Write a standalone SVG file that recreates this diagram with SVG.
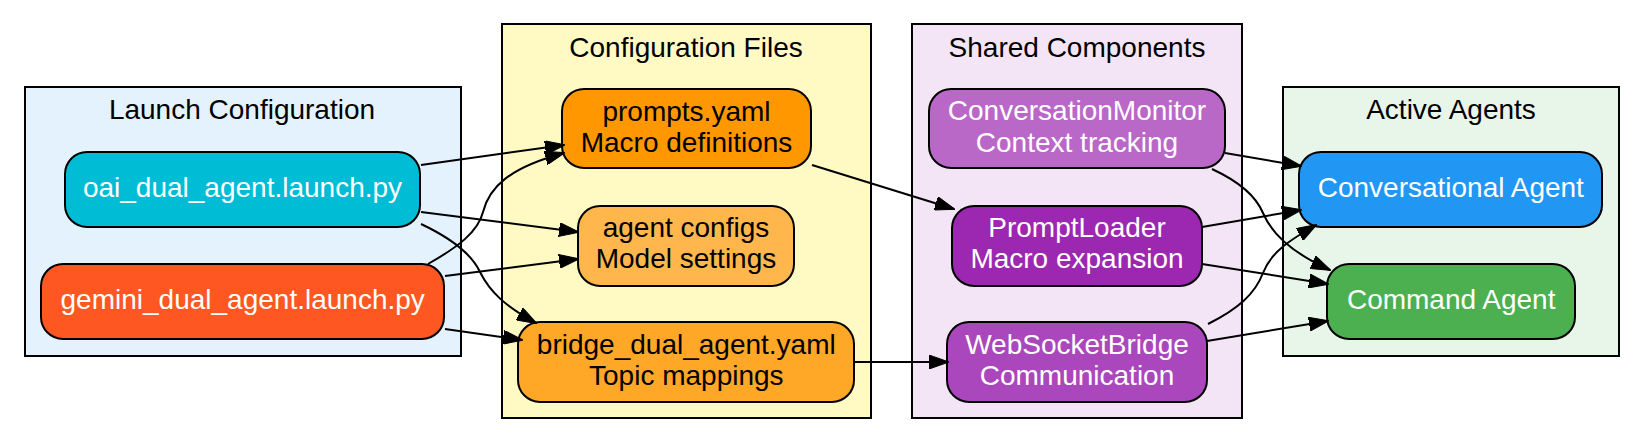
<svg xmlns="http://www.w3.org/2000/svg" width="1644" height="444" viewBox="0 0 1644 444">
<style>
text{font-family:"Liberation Sans",Arial,sans-serif;font-size:28px;text-anchor:middle}
.cl{stroke:#000;stroke-width:2}
.nd{stroke:#000;stroke-width:2}
.w{fill:#fff}
.b{fill:#000}
.e{fill:none;stroke:#000;stroke-width:2;marker-end:url(#ah)}
</style>
<defs>
<marker id="ah" viewBox="0 0 20 14" refX="19" refY="7" markerWidth="20" markerHeight="14" markerUnits="userSpaceOnUse" orient="auto">
<path d="M0,0 L20,7 L0,14 z" fill="#000" stroke="#000" stroke-width="1"/>
</marker>
</defs>
<rect width="1644" height="444" fill="#fff"/>
<g id="cluster_launch">
<rect class="cl" x="25" y="87" width="436" height="269" fill="#e3f2fd"/>
<text x="242" y="119">Launch Configuration</text>
</g>
<g id="cluster_config">
<rect class="cl" x="502" y="24" width="369" height="394" fill="#fff9c4"/>
<text x="686" y="57">Configuration Files</text>
</g>
<g id="cluster_shared">
<rect class="cl" x="912" y="24" width="330" height="394" fill="#f3e5f5"/>
<text x="1077" y="57">Shared Components</text>
</g>
<g id="cluster_active">
<rect class="cl" x="1283" y="87" width="336" height="269" fill="#e8f5e9"/>
<text x="1451" y="119">Active Agents</text>
</g>
<g id="oai">
<rect class="nd" x="65" y="152" width="355" height="75" rx="22" fill="#00bcd4"/>
<text class="w" x="242.5" y="197">oai_dual_agent.launch.py</text>
</g>
<g id="gemini">
<rect class="nd" x="41" y="264" width="403" height="75" rx="22" fill="#ff5722"/>
<text class="w" x="242.7" y="309">gemini_dual_agent.launch.py</text>
</g>
<g id="prompts">
<rect class="nd" x="562" y="89" width="249" height="79" rx="22" fill="#ff9800"/>
<text class="b" x="686.5" y="121">prompts.yaml</text>
<text class="b" x="686.5" y="152">Macro definitions</text>
</g>
<g id="agentcfg">
<rect class="nd" x="578" y="206" width="216" height="80" rx="22" fill="#ffb74d"/>
<text class="b" x="686" y="237">agent configs</text>
<text class="b" x="686" y="268">Model settings</text>
</g>
<g id="bridgecfg">
<rect class="nd" x="518" y="322" width="336" height="80" rx="22" fill="#ffa726"/>
<text class="b" x="686.3" y="354">bridge_dual_agent.yaml</text>
<text class="b" x="686.3" y="385">Topic mappings</text>
</g>
<g id="convmon">
<rect class="nd" x="929" y="89" width="296" height="79" rx="22" fill="#ba68c8"/>
<text class="w" x="1077" y="120">ConversationMonitor</text>
<text class="w" x="1077" y="152">Context tracking</text>
</g>
<g id="promptloader">
<rect class="nd" x="952" y="206" width="250" height="80" rx="22" fill="#9c27b0"/>
<text class="w" x="1077" y="237">PromptLoader</text>
<text class="w" x="1077" y="268">Macro expansion</text>
</g>
<g id="wsbridge">
<rect class="nd" x="947" y="322" width="260" height="80" rx="22" fill="#ab47bc"/>
<text class="w" x="1077" y="354">WebSocketBridge</text>
<text class="w" x="1077" y="385">Communication</text>
</g>
<g id="convagent">
<rect class="nd" x="1299" y="152" width="303" height="75" rx="22" fill="#2196f3"/>
<text class="w" x="1450.8" y="197">Conversational Agent</text>
</g>
<g id="cmdagent">
<rect class="nd" x="1327" y="264" width="248" height="75" rx="22" fill="#4caf50"/>
<text class="w" x="1451.2" y="309">Command Agent</text>
</g>
<g id="connectors">
<path class="e" d="M421,165 L564,145"/>
<path class="e" d="M428,264 C458,247 478,232 483,212 C489,188 508,168 564,153"/>
<path class="e" d="M421,212 L578,232"/>
<path class="e" d="M421,224 C455,240 472,255 480,272 C490,292 505,306 536,323"/>
<path class="e" d="M445,276 L578,259"/>
<path class="e" d="M445,329 L522,340"/>
<path class="e" d="M812,165 L954,209"/>
<path class="e" d="M854,362 L948,362"/>
<path class="e" d="M1225,153 L1301,166"/>
<path class="e" d="M1212,169 C1240,182 1256,196 1263,213 C1271,232 1290,252 1330,270"/>
<path class="e" d="M1202,227 L1301,210"/>
<path class="e" d="M1202,264 L1328,284"/>
<path class="e" d="M1208,324 C1238,309 1255,294 1263,273 C1271,252 1290,240 1316,225"/>
<path class="e" d="M1207,341 L1328,321"/>
</g>
</svg>
